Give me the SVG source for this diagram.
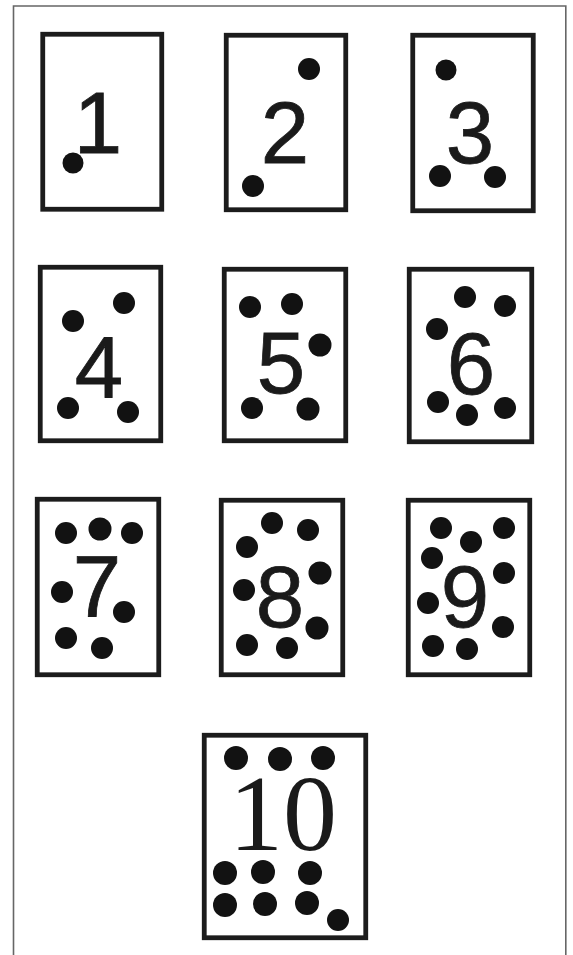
<svg xmlns="http://www.w3.org/2000/svg" width="573" height="955" viewBox="0 0 573 955">
<style>
.frame{fill:none;stroke:#666;stroke-width:1.6}
.card{fill:#fff;stroke:#1c1c1c;stroke-width:4.8}
.dot{fill:#121212}
.num{font-family:"Liberation Sans",Arial,sans-serif;font-size:87px;fill:#1a1a1a;text-anchor:middle;stroke:#1a1a1a;stroke-width:0.8}
.num10{font-family:"Liberation Serif","Times New Roman",serif;font-size:108px;fill:#1a1a1a;text-anchor:middle}
</style>
<rect width="573" height="955" fill="#fff"/>
<path class="frame" d="M13.5,955 V6 H565.8 V955"/>
<g id="card1">
<rect class="card" x="42.75" y="34.25" width="119" height="175"/>
<text class="num" x="98" y="153">1</text>
<circle class="dot" cx="73" cy="163" r="10.5"/>
</g>
<g id="card2">
<rect class="card" x="226.25" y="35.25" width="119.5" height="174.5"/>
<text class="num" x="285" y="163">2</text>
<circle class="dot" cx="309" cy="69" r="11"/>
<circle class="dot" cx="253" cy="186" r="11"/>
</g>
<g id="card3">
<rect class="card" x="412.75" y="35.25" width="120.5" height="175.5"/>
<text class="num" x="470" y="163">3</text>
<circle class="dot" cx="446" cy="70" r="10.5"/>
<circle class="dot" cx="440" cy="176" r="11"/>
<circle class="dot" cx="495" cy="177" r="11"/>
</g>
<g id="card4">
<rect class="card" x="40.25" y="267.25" width="120.5" height="173.5"/>
<text class="num" x="99" y="398">4</text>
<circle class="dot" cx="73" cy="321" r="11"/>
<circle class="dot" cx="124" cy="303" r="11"/>
<circle class="dot" cx="68" cy="408" r="11"/>
<circle class="dot" cx="128" cy="412" r="11"/>
</g>
<g id="card5">
<rect class="card" x="224.25" y="269.25" width="121.5" height="171.5"/>
<text class="num" x="281" y="393">5</text>
<circle class="dot" cx="250" cy="307" r="11"/>
<circle class="dot" cx="292" cy="304" r="11"/>
<circle class="dot" cx="320" cy="345" r="11.5"/>
<circle class="dot" cx="252" cy="408" r="11"/>
<circle class="dot" cx="308" cy="409" r="11.5"/>
</g>
<g id="card6">
<rect class="card" x="409.25" y="269.25" width="122.5" height="172.5"/>
<text class="num" x="471" y="394">6</text>
<circle class="dot" cx="465" cy="297" r="11"/>
<circle class="dot" cx="505" cy="306" r="11"/>
<circle class="dot" cx="437" cy="329" r="11"/>
<circle class="dot" cx="438" cy="402" r="11"/>
<circle class="dot" cx="467" cy="415" r="11"/>
<circle class="dot" cx="505" cy="408" r="11"/>
</g>
<g id="card7">
<rect class="card" x="37.25" y="499.25" width="121.5" height="175.5"/>
<text class="num" x="97" y="617">7</text>
<circle class="dot" cx="66" cy="533" r="11"/>
<circle class="dot" cx="100" cy="529" r="11.5"/>
<circle class="dot" cx="132" cy="533" r="11"/>
<circle class="dot" cx="62" cy="592" r="11"/>
<circle class="dot" cx="124" cy="612" r="11"/>
<circle class="dot" cx="66" cy="638" r="11"/>
<circle class="dot" cx="102" cy="648" r="11"/>
</g>
<g id="card8">
<rect class="card" x="221.25" y="500.25" width="121.5" height="174.5"/>
<text class="num" x="280" y="627">8</text>
<circle class="dot" cx="272" cy="523" r="11"/>
<circle class="dot" cx="308" cy="530" r="11"/>
<circle class="dot" cx="247" cy="547" r="11"/>
<circle class="dot" cx="320" cy="573" r="11.5"/>
<circle class="dot" cx="244" cy="590" r="11"/>
<circle class="dot" cx="317" cy="628" r="11.5"/>
<circle class="dot" cx="247" cy="645" r="11"/>
<circle class="dot" cx="287" cy="648" r="11"/>
</g>
<g id="card9">
<rect class="card" x="408.25" y="500.25" width="121.5" height="174.5"/>
<text class="num" x="465" y="627">9</text>
<circle class="dot" cx="441" cy="528" r="11"/>
<circle class="dot" cx="471" cy="542" r="11"/>
<circle class="dot" cx="504" cy="528" r="11"/>
<circle class="dot" cx="432" cy="558" r="11"/>
<circle class="dot" cx="504" cy="573" r="11"/>
<circle class="dot" cx="428" cy="603" r="11"/>
<circle class="dot" cx="503" cy="627" r="11"/>
<circle class="dot" cx="433" cy="646" r="11"/>
<circle class="dot" cx="467" cy="649" r="11"/>
</g>
<g id="card10">
<rect class="card" x="204.25" y="735.25" width="161.5" height="202.5"/>
<text class="num10" x="283" y="850">10</text>
<circle class="dot" cx="236" cy="758" r="12"/>
<circle class="dot" cx="280" cy="759" r="12"/>
<circle class="dot" cx="323" cy="758" r="12"/>
<circle class="dot" cx="225" cy="873" r="12"/>
<circle class="dot" cx="263" cy="872" r="12"/>
<circle class="dot" cx="310" cy="873" r="12"/>
<circle class="dot" cx="225" cy="905" r="12"/>
<circle class="dot" cx="265" cy="904" r="12"/>
<circle class="dot" cx="307" cy="903" r="12"/>
<circle class="dot" cx="338" cy="920" r="11"/>
</g>
</svg>
